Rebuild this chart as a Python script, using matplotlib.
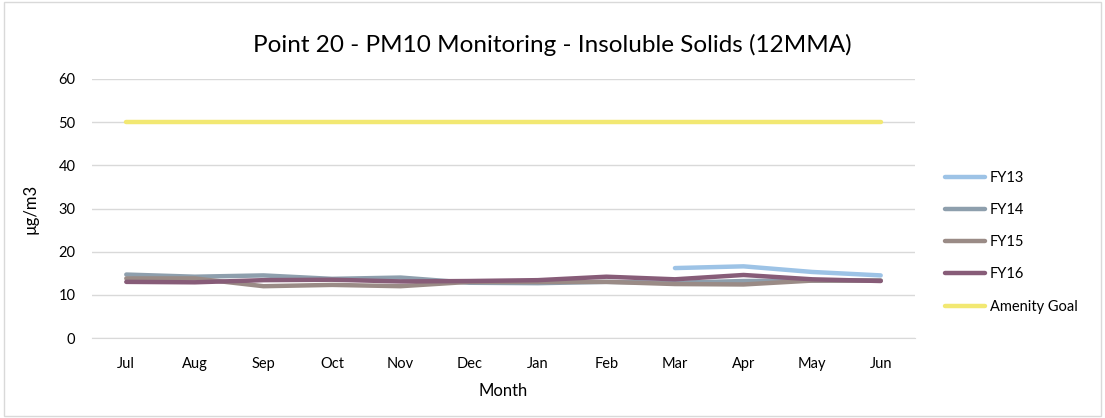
import matplotlib
matplotlib.use("Agg")
import matplotlib.pyplot as plt
import numpy as np

plt.rcParams['font.family'] = ['Lato', 'DejaVu Sans']

months = ['Jul', 'Aug', 'Sep', 'Oct', 'Nov', 'Dec', 'Jan', 'Feb', 'Mar', 'Apr', 'May', 'Jun']
fy13 = [np.nan] * 8 + [16.2, 16.6, 15.3, 14.5]
fy14 = [14.7, 14.2, 14.5, 13.7, 14.0, 12.8, 12.7, 13.0, 12.8, 13.2, 13.3, 13.3]
fy15 = [13.8, 13.8, 12.0, 12.3, 12.0, 13.0, 13.0, 13.0, 12.5, 12.4, 13.3, 13.3]
fy16 = [13.0, 12.9, 13.4, 13.5, 13.1, 13.2, 13.4, 14.2, 13.6, 14.6, 13.6, 13.2]
goal = [50] * 12

series = [
    ('FY13', fy13, '#9dc3e6'),
    ('FY14', fy14, '#8e9fad'),
    ('FY15', fy15, '#9a8b86'),
    ('FY16', fy16, '#875c78'),
    ('Amenity Goal', goal, '#f2e872'),
]

fig = plt.figure(figsize=(11.05, 4.18), dpi=100)
ax = fig.add_axes([92 / 1105, 1 - 338 / 418, (915 - 92) / 1105, (338 - 79) / 418])

x = np.arange(len(months))
for name, vals, color in series:
    ax.plot(x, vals, color=color, lw=3.2, label=name, solid_capstyle='round')

ax.set_xlim(-0.5, len(months) - 0.5)
ax.set_ylim(0, 60)
ax.set_yticks(range(0, 61, 10))
ax.set_xticks(x, months)
ax.grid(axis='y', color='#d9d9d9', lw=1)
ax.set_axisbelow(True)
for s in ['top', 'right', 'left']:
    ax.spines[s].set_visible(False)
ax.spines['bottom'].set_color('#d9d9d9')
ax.tick_params(axis='x', length=0, labelsize=10.5, pad=14)
ax.tick_params(axis='y', length=0, labelsize=10.5, pad=12)
ax.set_ylabel('µg/m3', fontsize=12, labelpad=14)
ax.set_xlabel('Month', fontsize=12, labelpad=8)
fig.text(0.5, 1 - 45 / 418, 'Point 20 - PM10 Monitoring - Insoluble Solids (12MMA)',
         ha='center', va='center', fontsize=17.5)

leg = ax.legend(loc='center left', bbox_to_anchor=(1.02, 0.37), frameon=False,
                fontsize=10.5, handlelength=2.8, labelspacing=1.25, handletextpad=0.3)

# chart border
fig.patches.append(plt.Rectangle((0.004, 0.005), 0.992, 0.99, transform=fig.transFigure,
                                 fill=False, edgecolor='#d9d9d9', lw=1))

fig.savefig('out.png', dpi=100)
